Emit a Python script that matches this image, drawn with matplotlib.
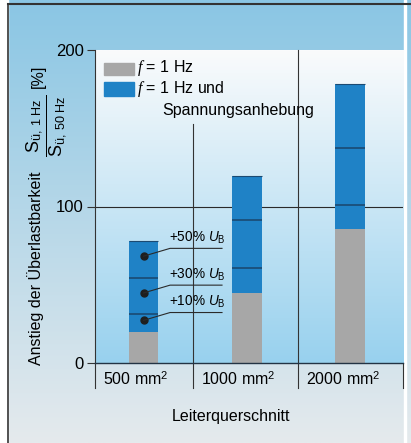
import numpy as np
import matplotlib
matplotlib.use("Agg")
import matplotlib.pyplot as plt
from matplotlib.patches import Rectangle

plt.rcParams['font.family'] = ['Liberation Sans', 'DejaVu Sans']
plt.rcParams['mathtext.fontset'] = 'custom'
plt.rcParams['mathtext.rm'] = 'Liberation Sans'
plt.rcParams['mathtext.it'] = 'Liberation Serif:italic'
plt.rcParams['mathtext.sf'] = 'Liberation Sans:italic'

# data
categories = ["500 mm$^2$", "1000 mm$^2$", "2000 mm$^2$"]
base_1hz = [19.5, 45, 85.5]          # f = 1 Hz
top_10 = [31, 60.5, 101]             # +10% U_B
top_30 = [54.5, 91.5, 137.5]         # +30% U_B
top_50 = [78, 119.5, 178]            # +50% U_B
step_labels = ["+10%", "+30%", "+50%"]
yticks = [0, 100, 200]

W, H = 411, 443
fig = plt.figure(figsize=(W / 100, H / 100), dpi=100)

def fx(px):
    return px / W

def fy(py):
    return 1 - py / H

# page background: blue at the top fading to light grey
bg = fig.add_axes([0, 0, 1, 1], zorder=-10)
bg.axis('off')
top_c = np.array([138, 198, 228]) / 255
bot_c = np.array([229, 234, 237]) / 255
t = np.linspace(0, 1, 256)[:, None, None]
grad = top_c * (1 - t) + bot_c * t
bg.imshow(grad, extent=[0, 1, 0, 1], aspect='auto', origin='upper')
bg.set_xlim(0, 1)
bg.set_ylim(0, 1)
bg.add_patch(Rectangle((0, 0), fx(8), 1, color='white'))
bg.add_patch(Rectangle((fx(404), 0), fx(1.5), 1, color='white'))
bg.plot([fx(8), fx(8)], [0, fy(4)], color='#333333', lw=1.2)
bg.plot([fx(8), 1], [fy(4), fy(4)], color='#333333', lw=1.5)

ax = fig.add_axes([fx(95), 80 / H, 308 / W, 313 / H])
xlo, xhi = -0.47, 2.513
ax.set_xlim(xlo, xhi)
ax.set_ylim(0, 200)
ax.patch.set_visible(False)

# inner panel: white at the top fading to light blue
in_top = np.array([250, 251, 252]) / 255
in_bot = np.array([152, 209, 238]) / 255
grad2 = in_top * (1 - t) + in_bot * t
ax.imshow(grad2, extent=[xlo, xhi, 0, 200], aspect='auto', origin='upper', zorder=0)

ax.axhline(100, color='#2a2a2a', lw=0.8, zorder=1)

x = np.arange(len(categories))
bw = 0.29
gray = '#a7a7a7'
blue = '#1f82c6'
navy = '#1b4a72'
ax.bar(x, base_1hz, bw, color=gray, zorder=2)
ax.bar(x, np.array(top_50) - np.array(base_1hz), bw, bottom=base_1hz, color=blue, zorder=2)
for xi, a, b, c in zip(x, top_10, top_30, top_50):
    ax.hlines([a, b], xi - bw / 2, xi + bw / 2, color=navy, lw=1.2, zorder=3)
    ax.hlines([c], xi - bw / 2, xi + bw / 2, color=navy, lw=0.8, zorder=3)

# separators between categories
sep = [xlo, 0.48, 1.5, xhi]
ax.plot([sep[1], sep[1]], [-16, 153], color='#333333', lw=0.8, clip_on=False, zorder=1)
ax.plot([sep[2], sep[2]], [-16, 200], color='#333333', lw=0.8, clip_on=False, zorder=1)
ax.plot([sep[0], sep[0]], [-16, 0], color='#333333', lw=0.8, clip_on=False)
ax.plot([sep[3], sep[3]], [-16, 0], color='#333333', lw=0.8, clip_on=False)

for s, lab in zip(sep[:3], categories):
    ax.text(s + 0.075, -10.5, lab, ha='left', va='center', fontsize=11.5, clip_on=False)

# annotations on the first bar
lows = [base_1hz[0], top_10[0], top_30[0]]
highs = [top_10[0], top_30[0], top_50[0]]
for lo, hi, lab in zip(lows, highs, step_labels):
    yd = (lo + hi) / 2 + 2
    yl = yd + 5
    ax.plot([0], [yd], 'o', color='#1e1e1e', ms=5, zorder=4)
    ax.plot([0, 0.257, 0.76], [yd, yl, yl], color='#2a2a2a', lw=0.8, zorder=4)
    ax.text(0.25, yl + 1.5, lab + r" $\mathsf{U}_\mathrm{B}$", ha='left', va='bottom',
            fontsize=9.8, zorder=4)

# legend drawn by hand
ax.add_patch(Rectangle((-0.383, 184.3), 0.29, 7.7, color=gray, zorder=3))
ax.add_patch(Rectangle((-0.383, 170.6), 0.29, 9.0, color=blue, zorder=3))
ax.text(-0.068, 188.3, r"$f$ = 1 Hz", ha='left', va='center', fontsize=11.5)
ax.text(-0.068, 175, r"$f$ = 1 Hz und", ha='left', va='center', fontsize=11.5)
ax.text(0.185, 161.5, "Spannungsanhebung", ha='left', va='center', fontsize=11.5)

ax.set_yticks(yticks)
ax.set_yticklabels([str(v) for v in yticks], fontsize=12)
ax.set_xticks([])
ax.tick_params(axis='y', direction='out', length=6, width=0.8, pad=2, color='#333333')
ax.spines['top'].set_visible(False)
ax.spines['right'].set_visible(False)
ax.spines['left'].set_color('#333333')
ax.spines['left'].set_linewidth(0.8)
ax.spines['bottom'].set_color('#223344')
ax.spines['bottom'].set_linewidth(1.0)

fig.text(fx(231), fy(417), "Leiterquerschnitt", ha='center', va='center', fontsize=11.5)
fig.text(fx(36), fy(268), "Anstieg der Überlastbarkeit", rotation=90,
         ha='center', va='center', fontsize=11.5)
fig.text(fx(46.5), fy(126), r"$\dfrac{\mathrm{S}_{\mathrm{ü,\ 1\ Hz}}}{\mathrm{S}_{\mathrm{ü,\ 50\ Hz}}}$",
         rotation=90, ha='center', va='center', fontsize=13)
fig.text(fx(38), fy(76), "[%]", rotation=90, ha='center', va='center', fontsize=11.5)

fig.savefig("out.png", dpi=100)
